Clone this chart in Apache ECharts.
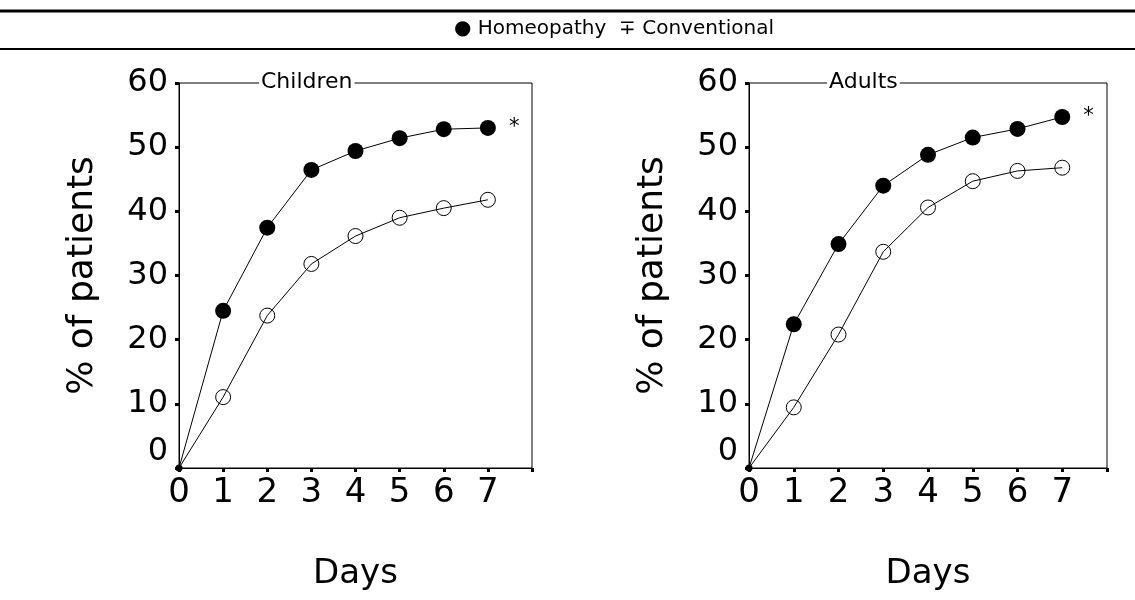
<!DOCTYPE html>
<html>
<head>
<meta charset="utf-8">
<script src="https://cdn.jsdelivr.net/npm/echarts@6/dist/echarts.min.js"></script>
<style>html,body{margin:0;padding:0;background:#fff}#c{width:1135px;height:600px}</style>
</head>
<body>
<div id="c"></div>
<script>
var days = [0, 1, 2, 3, 4, 5, 6, 7];
var xTicks = [0, 1, 2, 3, 4, 5, 6, 7];
var yTicks = [0, 10, 20, 30, 40, 50, 60];
var panelTitles = ['Children', 'Adults'];
var seriesNames = ['Homeopathy', 'Conventional'];
var homeoChildren = [0, 24.5, 37.45, 46.45, 49.4, 51.4, 52.8, 53.0];
var convChildren = [0, 11.05, 23.75, 31.8, 36.15, 39.0, 40.5, 41.8];
var homeoAdults = [0, 22.4, 34.9, 44.0, 48.8, 51.5, 52.85, 54.7];
var convAdults = [0, 9.45, 20.8, 33.7, 40.6, 44.7, 46.3, 46.8];
var starText = '*';

var FONT = 'DejaVu Sans';
var chart = echarts.init(document.getElementById('c'));

function mkData(vals, filled) {
  return vals.map(function (v, i) {
    var item = { value: [days[i], v] };
    if (i === 0) {
      if (filled) { item.symbolSize = 7; } else { item.symbol = 'none'; }
    }
    if (filled && i === vals.length - 1) {
      item.label = { show: true, formatter: starText, position: 'right', distance: 13,
        fontSize: 21, fontFamily: FONT, color: '#000' };
    }
    return item;
  });
}

var grids = [
  { left: 179, top: 83, width: 353, height: 385 },
  { left: 749, top: 83, width: 358, height: 385 }
];

function xAx(gi) {
  return {
    gridIndex: gi, type: 'value', min: 0, max: 8, interval: 1,
    name: 'Days', nameLocation: 'middle', nameGap: 89,
    nameTextStyle: { fontSize: 34, fontFamily: FONT, color: '#000' },
    axisLine: { lineStyle: { color: '#000', width: 1 } },
    axisTick: { show: true, length: 4, lineStyle: { color: '#000', width: 3 } },
    splitLine: { show: false },
    axisLabel: { margin: 8, fontSize: 34, fontFamily: FONT, color: '#000',
      formatter: function (v) { return xTicks.indexOf(v) >= 0 ? String(v) : ''; } }
  };
}
function yAx(gi) {
  return {
    gridIndex: gi, type: 'value', min: 0, max: 60, interval: 10,
    name: '% of patients', nameLocation: 'middle', nameGap: 78,
    nameTextStyle: { fontSize: 36, fontFamily: FONT, color: '#000' },
    axisLine: { show: true, lineStyle: { color: '#000', width: 1 } },
    axisTick: { show: true, length: 4, lineStyle: { color: '#000', width: 3 } },
    splitLine: { show: false },
    axisLabel: { margin: 11, fontSize: 32, fontFamily: FONT, color: '#000',
      verticalAlignMinLabel: 'bottom',
      formatter: function (v) { return yTicks.indexOf(v) >= 0 ? String(v) : ''; } }
  };
}

function lineSeries(name, gi, vals, filled) {
  return {
    name: name, type: 'line', xAxisIndex: gi, yAxisIndex: gi,
    data: mkData(vals, filled),
    symbol: 'circle', symbolSize: filled ? 16 : 15,
    lineStyle: { color: '#000', width: 1 },
    itemStyle: filled ? { color: '#000' } : { color: 'rgba(0,0,0,0)', borderColor: '#000', borderWidth: 1 },
    emphasis: { disabled: true },
    animation: false,
    z: filled ? 3 : 2
  };
}

var option = {
  backgroundColor: '#fff',
  animation: false,
  title: [
    { text: panelTitles[0], left: 259, top: 70, padding: [1, 2],
      backgroundColor: '#fff',
      textStyle: { fontSize: 22, fontWeight: 'normal', fontFamily: FONT, color: '#000' } },
    { text: panelTitles[1], left: 827, top: 70, padding: [1, 2],
      backgroundColor: '#fff',
      textStyle: { fontSize: 22, fontWeight: 'normal', fontFamily: FONT, color: '#000' } }
  ],
  grid: grids.map(function (g) {
    return Object.assign({ show: true, borderColor: '#000', borderWidth: 1, backgroundColor: 'transparent' }, g);
  }),
  xAxis: [xAx(0), xAx(1)],
  yAxis: [yAx(0), yAx(1)],
  series: [
    lineSeries(seriesNames[1], 0, convChildren, false),
    lineSeries(seriesNames[0], 0, homeoChildren, true),
    lineSeries(seriesNames[1], 1, convAdults, false),
    lineSeries(seriesNames[0], 1, homeoAdults, true)
  ],
  graphic: [
    { type: 'line', shape: { x1: 0, y1: 11, x2: 1135, y2: 11 }, style: { stroke: '#000', lineWidth: 3 } },
    { type: 'line', shape: { x1: 0, y1: 49, x2: 1135, y2: 49 }, style: { stroke: '#000', lineWidth: 2 } },
    { type: 'text', x: 614, y: 29,
      style: { text: '\u25CF ' + seriesNames[0] + '  \u2213 ' + seriesNames[1],
        fontSize: 20, fontFamily: FONT, fill: '#000', textAlign: 'center', textVerticalAlign: 'middle' } }
  ]
};
chart.setOption(option);
</script>
</body>
</html>
